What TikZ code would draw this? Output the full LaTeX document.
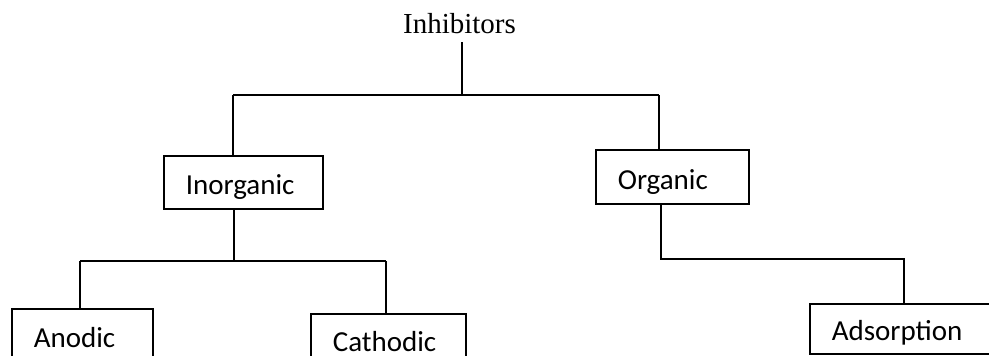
\documentclass[tikz,border=0pt]{standalone}
\usepackage{fontspec}
\setmainfont{Carlito}
\newfontfamily\headface{Liberation Serif}

\begin{document}
\begin{tikzpicture}[x=1pt,y=-1pt,
    box/.style={draw,line width=1.6pt,anchor=north west,align=left,
        inner xsep=22pt,inner ysep=0pt,text height=39pt,text depth=14pt,
        font=\fontsize{29}{34}\selectfont},
    link/.style={line width=1.6pt}]

        %\draw [help lines,step=50] (0,0) grid (989,356);
        \useasboundingbox (0,0) rectangle (989,356);
        \clip (0,0) rectangle (989,356);

        \node[font=\headface\fontsize{29}{34}\selectfont,anchor=base,inner ysep=9pt] (inh) at (459.5,33) {Inhibitors};

        \node[box,text width=115pt] (inorg) at (163,155) {Inorganic};
        \node[box,text width=109pt,text height=40pt] (org) at (595,149) {Organic};

        \node[box,text width=97pt] (anodic) at (11,308) {Anodic};
        \node[box,text width=111pt,text height=38pt] (cathodic) at (310,313) {Cathodic};
        \node[box,text width=170pt,text height=37pt,text depth=13pt] (adsorb) at (809,303) {Adsorption};

        \coordinate (top) at (462,95);
        \coordinate (topl) at (233,95);
        \coordinate (topr) at (659,95);

        \coordinate (mid) at (234,261);
        \coordinate (midl) at (80,261);
        \coordinate (midr) at (386,261);

        \coordinate (rgtl) at (661,259);
        \coordinate (rgtr) at (904,259);

        \draw[link] (top |- inh.south) -- (top);
        \draw[link] (topl) -- (topr);
        \draw[link] (topl) -- (topl |- inorg.north);
        \draw[link] (topr) -- (topr |- org.north);

        \draw[link] (mid |- inorg.south) -- (mid);
        \draw[link] (midl) -- (midr);
        \draw[link] (midl) -- (midl |- anodic.north);
        \draw[link] (midr) -- (midr |- cathodic.north);

        \draw[link] (rgtl |- org.south) -- (rgtl) -- (rgtr) -- (rgtr |- adsorb.north);

\end{tikzpicture}
\end{document}
